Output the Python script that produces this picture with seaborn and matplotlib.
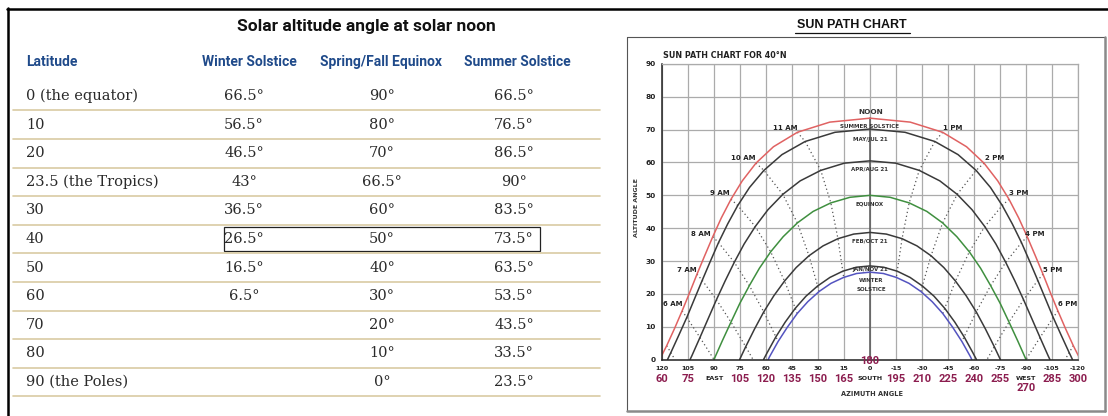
import numpy as np
import pandas as pd
import matplotlib
matplotlib.use("Agg")
import matplotlib.pyplot as plt
from matplotlib.lines import Line2D
from matplotlib.patches import Rectangle
from matplotlib.transforms import blended_transform_factory
import seaborn as sns

# ---------------- table data ----------------
TABLE_TITLE = "Solar altitude angle at solar noon"
HEADERS = ["Latitude", "Winter Solstice", "Spring/Fall Equinox", "Summer Solstice"]
LATITUDES = ["0 (the equator)", "10", "20", "23.5 (the Tropics)", "30", "40", "50", "60", "70", "80", "90 (the Poles)"]
WINTER = ["66.5°", "56.5°", "46.5°", "43°", "36.5°", "26.5°", "16.5°", "6.5°", "", "", ""]
EQUINOX = ["90°", "80°", "70°", "66.5°", "60°", "50°", "40°", "30°", "20°", "10°", "0°"]
SUMMER = ["66.5°", "76.5°", "86.5°", "90°", "83.5°", "73.5°", "63.5°", "53.5°", "43.5°", "33.5°", "23.5°"]
BOXED_ROW = 5

# ---------------- sun path data (azimuth from south, altitude) ----------------
SUM_AZ = [121.3, 117.3, 112.8, 108.4, 104.1, 99.8, 95.3, 90.7, 85.8, 80.2, 73.7, 65.8, 55.7, 41.9, 23.2, 0.0,
          -23.2, -41.9, -55.7, -65.8, -73.7, -80.2, -85.8, -90.7, -95.3, -99.8, -104.1, -108.4, -112.8, -117.3, -121.3]
SUM_ALT = [0.0, 4.2, 9.4, 14.8, 20.3, 26.0, 31.7, 37.4, 43.1, 48.8, 54.4, 59.8, 64.8, 69.2, 72.3, 73.5,
           72.3, 69.2, 64.8, 59.8, 54.4, 48.8, 43.1, 37.4, 31.7, 26.0, 20.3, 14.8, 9.4, 4.2, 0.0]
MAY_AZ = [116.8, 114.9, 110.3, 105.7, 101.3, 96.8, 92.2, 87.4, 82.1, 76.3, 69.5, 61.2, 50.8, 37.4, 20.2, 0.0,
          -20.2, -37.4, -50.8, -61.2, -69.5, -76.3, -82.1, -87.4, -92.2, -96.8, -101.3, -105.7, -110.3, -114.9, -116.8]
MAY_ALT = [0.0, 2.1, 7.4, 12.8, 18.4, 24.1, 29.8, 35.6, 41.3, 46.9, 52.4, 57.6, 62.4, 66.4, 69.2, 70.2,
           69.2, 66.4, 62.4, 57.6, 52.4, 46.9, 41.3, 35.6, 29.8, 24.1, 18.4, 12.8, 7.4, 2.1, 0.0]
APR_AZ = [103.8, 102.8, 98.1, 93.4, 88.6, 83.6, 78.3, 72.6, 66.2, 58.9, 50.3, 40.3, 28.4, 14.8, 0.0,
          -14.8, -28.4, -40.3, -50.3, -58.9, -66.2, -72.6, -78.3, -83.6, -88.6, -93.4, -98.1, -102.8, -103.8]
APR_ALT = [0.0, 1.1, 6.7, 12.4, 18.2, 23.9, 29.6, 35.2, 40.5, 45.6, 50.3, 54.4, 57.6, 59.8, 60.5,
           59.8, 57.6, 54.4, 50.3, 45.6, 40.5, 35.2, 29.6, 23.9, 18.2, 12.4, 6.7, 1.1, 0.0]
EQX_AZ = [90.0, 85.2, 80.2, 75.1, 69.6, 63.8, 57.3, 50.1, 41.9, 32.8, 22.6, 11.6, 0.0,
          -11.6, -22.6, -32.8, -41.9, -50.1, -57.3, -63.8, -69.6, -75.1, -80.2, -85.2, -90.0]
EQX_ALT = [0.0, 5.7, 11.4, 17.1, 22.5, 27.8, 32.8, 37.4, 41.6, 45.1, 47.7, 49.4, 50.0,
           49.4, 47.7, 45.1, 41.6, 37.4, 32.8, 27.8, 22.5, 17.1, 11.4, 5.7, 0.0]
FEB_AZ = [75.2, 71.7, 66.6, 61.3, 55.5, 49.3, 42.6, 35.2, 27.1, 18.5, 9.4, 0.0,
          -9.4, -18.5, -27.1, -35.2, -42.6, -49.3, -55.5, -61.3, -66.6, -71.7, -75.2]
FEB_ALT = [0.0, 3.9, 9.3, 14.5, 19.4, 23.9, 28.0, 31.6, 34.6, 36.8, 38.2, 38.7,
           38.2, 36.8, 34.6, 31.6, 28.0, 23.9, 19.4, 14.5, 9.3, 3.9, 0.0]
JAN_AZ = [61.4, 59.3, 54.3, 48.9, 43.1, 36.9, 30.2, 23.1, 15.7, 7.9, 0.0,
          -7.9, -15.7, -23.1, -30.2, -36.9, -43.1, -48.9, -54.3, -59.3, -61.4]
JAN_ALT = [0.0, 2.1, 6.9, 11.4, 15.6, 19.3, 22.4, 25.0, 26.9, 28.1, 28.5,
           28.1, 26.9, 25.0, 22.4, 19.3, 15.6, 11.4, 6.9, 2.1, 0.0]
WIN_AZ = [58.7, 58.0, 53.0, 47.6, 42.0, 35.9, 29.4, 22.5, 15.2, 7.7, 0.0,
          -7.7, -15.2, -22.5, -29.4, -35.9, -42.0, -47.6, -53.0, -58.0, -58.7]
WIN_ALT = [0.0, 0.8, 5.5, 9.9, 14.0, 17.6, 20.7, 23.2, 25.0, 26.2, 26.6,
           26.2, 25.0, 23.2, 20.7, 17.6, 14.0, 9.9, 5.5, 0.8, 0.0]

# hour lines (dotted), summer -> winter
H11_AZ = [41.9, 37.4, 28.4, 22.6, 18.5, 15.7, 15.2]
H11_ALT = [69.2, 66.4, 57.6, 47.7, 36.8, 26.9, 25.0]
H10_AZ = [65.8, 61.2, 50.3, 41.9, 35.2, 30.2, 29.4]
H10_ALT = [59.8, 57.6, 50.3, 41.6, 31.6, 22.4, 20.7]
H9_AZ = [80.2, 76.3, 66.2, 57.3, 49.3, 43.1, 42.0]
H9_ALT = [48.8, 46.9, 40.5, 32.8, 23.9, 15.6, 14.0]
H8_AZ = [90.7, 87.4, 78.3, 69.6, 61.3, 54.3, 53.0]
H8_ALT = [37.4, 35.6, 29.6, 22.5, 14.5, 6.9, 5.5]
H7_AZ = [99.8, 96.8, 88.6, 80.2, 71.7, 67.5]
H7_ALT = [26.0, 24.1, 18.2, 11.4, 3.9, 0.0]
H6_AZ = [108.4, 105.7, 98.1, 90.0]
H6_ALT = [14.8, 12.8, 6.7, 0.0]
H5_AZ = [117.3, 114.9, 112.6]
H5_ALT = [4.2, 2.1, 0.0]
H13_AZ = [-41.9, -37.4, -28.4, -22.6, -18.5, -15.7, -15.2]
H13_ALT = [69.2, 66.4, 57.6, 47.7, 36.8, 26.9, 25.0]
H14_AZ = [-65.8, -61.2, -50.3, -41.9, -35.2, -30.2, -29.4]
H14_ALT = [59.8, 57.6, 50.3, 41.6, 31.6, 22.4, 20.7]
H15_AZ = [-80.2, -76.3, -66.2, -57.3, -49.3, -43.1, -42.0]
H15_ALT = [48.8, 46.9, 40.5, 32.8, 23.9, 15.6, 14.0]
H16_AZ = [-90.7, -87.4, -78.3, -69.6, -61.3, -54.3, -53.0]
H16_ALT = [37.4, 35.6, 29.6, 22.5, 14.5, 6.9, 5.5]
H17_AZ = [-99.8, -96.8, -88.6, -80.2, -71.7, -67.5]
H17_ALT = [26.0, 24.1, 18.2, 11.4, 3.9, 0.0]
H18_AZ = [-108.4, -105.7, -98.1, -90.0]
H18_ALT = [14.8, 12.8, 6.7, 0.0]
H19_AZ = [-117.3, -114.9, -112.6]
H19_ALT = [4.2, 2.1, 0.0]
NOON_AZ = [0.0, 0.0]
NOON_ALT = [0.0, 73.5]

X_TICKS = [120, 105, 90, 75, 60, 45, 30, 15, 0, -15, -30, -45, -60, -75, -90, -105, -120]
X_LABELS = ["120", "105", "90", "75", "60", "45", "30", "15", "0", "-15", "-30", "-45", "-60", "-75", "-90", "-105", "-120"]
COMPASS = ["60", "75", "EAST", "105", "120", "135", "150", "165", "SOUTH", "195", "210", "225", "240", "255", "WEST", "285", "300"]
Y_TICKS = [0, 10, 20, 30, 40, 50, 60, 70, 80, 90]

# ---------------- figure ----------------
sns.set_theme(style="white")
plt.rcParams['font.family'] = ['DejaVu Sans']

W, H = 1108, 416
fig = plt.figure(figsize=(W / 100, H / 100), dpi=100)
fig.patch.set_facecolor("white")


def fx(x):
    return x / W


def fy(y):
    return 1 - y / H


def seg(x0, y0, x1, y1, **kw):
    fig.add_artist(Line2D([fx(x0), fx(x1)], [fy(y0), fy(y1)], transform=fig.transFigure, **kw))


NARROW = ['Roboto', 'DejaVu Sans']
SERIF = ['DejaVu Serif']
BLUE = "#1f4a8a"

# outer frame
seg(7, 8.5, 1108, 8.5, color="black", lw=1.8)
seg(8, 7.5, 8, 416, color="black", lw=1.8)

# table title / headers
fig.text(fx(366), fy(26), TABLE_TITLE, ha="center", va="center", fontsize=12.5, fontweight="bold",
         family=NARROW, color="#111111")
HEAD_Y = 62
fig.text(fx(26), fy(HEAD_Y), HEADERS[0], ha="left", va="center", fontsize=10, fontweight="bold", family=NARROW, color=BLUE)
for hx, htxt in zip([249, 381, 517], HEADERS[1:]):
    fig.text(fx(hx), fy(HEAD_Y), htxt, ha="center", va="center", fontsize=10, fontweight="bold", family=NARROW, color=BLUE)

ROW0, STEP = 96, 28.6
for i, (lat, w, e, s) in enumerate(zip(LATITUDES, WINTER, EQUINOX, SUMMER)):
    ry = ROW0 + STEP * i
    fig.text(fx(26), fy(ry), lat, ha="left", va="center", fontsize=10.5, family=SERIF, color="#2a2a2a")
    for cx, val in zip([244, 382, 514], [w, e, s]):
        if val:
            fig.text(fx(cx), fy(ry), val, ha="center", va="center", fontsize=10.5, family=SERIF, color="#2a2a2a")
    seg(13, ry + 14.3, 600, ry + 14.3, color="#d9cba3", lw=1.2)
by = ROW0 + STEP * BOXED_ROW
fig.add_artist(Rectangle((fx(224), fy(by + 12)), fx(540) - fx(224), 24 / H, transform=fig.transFigure,
                         fill=False, edgecolor="#222222", lw=0.9))

# sun path chart box + title
seg(627, 37, 1105, 37, color="#555555", lw=0.8)
seg(627, 37, 627, 411, color="#555555", lw=0.8)
seg(1105, 37, 1105, 411, color="#8a8a8a", lw=1.8)
seg(627, 411, 1105, 411, color="#8a8a8a", lw=1.8)
fig.text(fx(852), fy(25), "SUN PATH CHART", ha="center", va="center", fontsize=9, fontweight="bold",
         family=['Liberation Sans', 'DejaVu Sans'], color="#111111")
seg(795, 32.5, 910, 32.5, color="#111111", lw=0.9)

ax = fig.add_axes([fx(662), fy(359.5), fx(1078) - fx(662), (359.5 - 64) / H])
ax.set_facecolor("white")

curves = [
    (SUM_AZ, SUM_ALT, "#e06262"),
    (MAY_AZ, MAY_ALT, "#3a3a3a"),
    (APR_AZ, APR_ALT, "#3a3a3a"),
    (EQX_AZ, EQX_ALT, "#3f8f3f"),
    (FEB_AZ, FEB_ALT, "#3a3a3a"),
    (JAN_AZ, JAN_ALT, "#3a3a3a"),
    (WIN_AZ, WIN_ALT, "#5454c0"),
]
hours = [(H11_AZ, H11_ALT), (H10_AZ, H10_ALT), (H9_AZ, H9_ALT), (H8_AZ, H8_ALT), (H7_AZ, H7_ALT),
         (H6_AZ, H6_ALT), (H5_AZ, H5_ALT), (H13_AZ, H13_ALT), (H14_AZ, H14_ALT), (H15_AZ, H15_ALT),
         (H16_AZ, H16_ALT), (H17_AZ, H17_ALT), (H18_AZ, H18_ALT), (H19_AZ, H19_ALT)]

for haz, halt in hours:
    sns.lineplot(data=pd.DataFrame({"az": haz, "alt": halt}), x="az", y="alt", sort=False, estimator=None,
                 color="#555555", lw=0.9, linestyle=(0, (1, 2.2)), ax=ax)
sns.lineplot(data=pd.DataFrame({"az": NOON_AZ, "alt": NOON_ALT}), x="az", y="alt", sort=False, estimator=None,
             color="#555555", lw=1.1, ax=ax)
for caz, calt, col in curves:
    sns.lineplot(data=pd.DataFrame({"az": caz, "alt": calt}), x="az", y="alt", sort=False, estimator=None,
                 color=col, lw=1.1, ax=ax)

ax.set_xlim(120, -120)
ax.set_ylim(0, 90)
ax.set_xticks(X_TICKS)
ax.set_xticklabels(X_LABELS)
ax.set_yticks(Y_TICKS)
ax.set_xticks(np.arange(-120, 121, 5), minor=True)
ax.set_yticks(np.arange(0, 91, 5), minor=True)
ax.grid(True, which="major", color="#ababab", lw=0.9)
ax.grid(False, which="minor")
ax.set_axisbelow(True)
ax.set_xlabel("")
ax.set_ylabel("")
ax.tick_params(axis="both", which="major", direction="out", length=3, width=0.9, colors="#222222", pad=1.5)
ax.tick_params(axis="both", which="minor", direction="out", length=2, width=0.7, colors="#222222")
ax.tick_params(axis="x", labelsize=4.6, pad=2)
ax.tick_params(axis="y", labelsize=5.3)
for lbl in ax.get_xticklabels() + ax.get_yticklabels():
    lbl.set_fontweight("bold")
for side in ["left", "bottom"]:
    ax.spines[side].set_color("#222222")
    ax.spines[side].set_linewidth(1.1)
for side in ["top", "right"]:
    ax.spines[side].set_color("#ababab")
    ax.spines[side].set_linewidth(0.9)

tr = blended_transform_factory(ax.transData, fig.transFigure)
MAROON = "#8c1d4f"
for xv, lab in zip(X_TICKS, COMPASS):
    if lab.isdigit():
        ax.text(xv, fy(379.5), lab, transform=tr, ha="center", va="center", fontsize=8, fontweight="bold",
                family=NARROW, color=MAROON)
    else:
        ax.text(xv, fy(378), lab, transform=tr, ha="center", va="center", fontsize=4.6, fontweight="bold",
                color="#222222")
ax.text(-90, fy(388), "270", transform=tr, ha="center", va="center", fontsize=8, fontweight="bold",
        family=NARROW, color=MAROON)
ax.text(0, fy(361), "180", transform=tr, ha="center", va="center", fontsize=8, fontweight="bold",
        family=NARROW, color=MAROON, clip_on=False)


def lab(x, y, s, size=4.3, **kw):
    fig.text(fx(x), fy(y), s, ha="center", va="center", fontsize=size, fontweight="bold", color="#333333", **kw)


fig.text(fx(663), fy(55), "SUN PATH CHART FOR 40°N", ha="left", va="center", fontsize=5.8, fontweight="bold", color="#222222")
lab(637, 208, "ALTITUDE ANGLE", size=4.5, rotation=90)
lab(872, 393.5, "AZIMUTH ANGLE", size=4.8)
lab(871, 112.5, "NOON", size=5.3)
lab(870, 126.5, "SUMMER SOLSTICE", size=4.0)
lab(870, 139.5, "MAY/JUL 21", size=4.0)
lab(870, 169, "APR/AUG 21", size=4.0)
lab(870, 203.5, "EQUINOX", size=4.0)
lab(870, 241, "FEB/OCT 21", size=4.0)
lab(870, 269, "JAN/NOV 21", size=4.0)
lab(871.5, 280.5, "WINTER", size=4.0)
lab(871.5, 289.5, "SOLSTICE", size=4.0)
for (x, y, s) in [(785, 128, "11 AM"), (953, 128, "1 PM"), (743, 158.5, "10 AM"), (995, 158.5, "2 PM"),
                  (720, 193, "9 AM"), (1019, 193, "3 PM"), (701, 234, "8 AM"), (1035, 234, "4 PM"),
                  (687, 269.5, "7 AM"), (1053, 269.5, "5 PM"), (673, 304, "6 AM"), (1068, 304, "6 PM")]:
    fig.text(fx(x), fy(y), s, ha="center", va="center", fontsize=5.0, fontweight="bold", color="#222222")

fig.savefig("out.png", dpi=100, facecolor="white")
